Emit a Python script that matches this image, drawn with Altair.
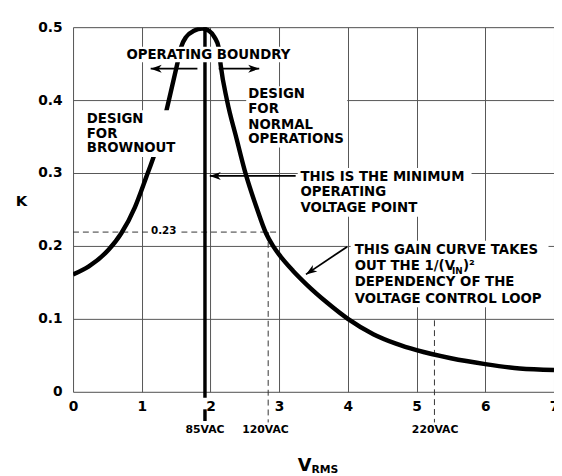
import altair as alt
import pandas as pd

# ---- data ----
curve_x = [0.0, 0.23, 0.52, 0.70, 0.90, 1.06, 1.20, 1.33, 1.42, 1.52, 1.57, 1.65, 1.76, 1.88,
           1.98, 2.06, 2.12, 2.15, 2.24, 2.38, 2.50, 2.67, 2.81, 2.91, 3.0, 3.2, 3.4, 3.7, 4.0,
           4.37, 4.7, 5.0, 5.5, 6.0, 6.5, 7.0]
curve_y = [0.161, 0.172, 0.195, 0.217, 0.253, 0.293, 0.330, 0.374, 0.410, 0.451, 0.472, 0.487, 0.495, 0.498,
           0.495, 0.486, 0.472, 0.447, 0.400, 0.347, 0.303, 0.253, 0.217, 0.200, 0.188, 0.166, 0.147, 0.122, 0.100,
           0.079, 0.066, 0.057, 0.046, 0.038, 0.032, 0.030]

x_ticks = [0, 1, 2, 3, 4, 5, 6, 7]
y_ticks = [0, 0.1, 0.2, 0.3, 0.4, 0.5]

min_voltage_x = 1.92          # 85VAC operating point
level_023 = 0.219             # dashed "0.23" level
v120_x = 2.84
v220_x = 5.26

# annotation texts
left_texts = ["DESIGN", "FOR", "BROWNOUT",
              "DESIGN", "FOR", "NORMAL", "OPERATIONS",
              "THIS IS THE MINIMUM", "OPERATING", "VOLTAGE POINT",
              "THIS GAIN CURVE TAKES", "OUT THE 1/(V", "DEPENDENCY OF THE", "VOLTAGE CONTROL LOOP"]
left_tx = [0.2, 0.2, 0.2,
           2.55, 2.55, 2.55, 2.55,
           3.31, 3.31, 3.31,
           4.10, 4.10, 4.10, 4.10]
left_ty = [0.374, 0.354, 0.334,
           0.408, 0.388, 0.366, 0.347,
           0.295, 0.274, 0.252,
           0.195, 0.172, 0.150, 0.127]

sub_texts = ["IN"]
sub_tx = [5.515]
sub_ty = [0.165]
close_texts = [")\u00b2"]
close_tx = [5.675]
close_ty = [0.172]

center_texts = ["OPERATING BOUNDRY"]
center_tx = [1.97]
center_ty = [0.462]

small_texts = ["85VAC", "120VAC", "220VAC"]
small_tx = [1.92, 2.80, 5.27]
small_ty = [-0.053, -0.053, -0.053]

tag_texts = ["0.23"]
tag_tx = [1.32]
tag_ty = [0.220]

k_label = ["K"]
k_x = [-0.75]
k_y = [0.262]

vrms_main = ["V"]
vrms_x = [3.27]
vrms_y = [-0.102]
vrms_sub = ["RMS"]
vrms_sub_x = [3.47]
vrms_sub_y = [-0.107]

# white backing boxes behind the annotation blocks
box_x = [0.72, 0.17, 2.52, 3.27, 4.04, 1.09]
box_x2 = [3.22, 1.58, 3.99, 5.80, 6.92, 1.55]
box_y = [0.452, 0.322, 0.335, 0.240, 0.116, 0.210]
box_y2 = [0.473, 0.386, 0.419, 0.307, 0.207, 0.230]

# dashed guide lines
dash_x = [0.0, v120_x, v220_x]
dash_x2 = [3.0, v120_x, v220_x]
dash_y = [level_023, level_023, 0.098]
dash_y2 = [level_023, -0.042, -0.042]

# thick operating-point line
op_x = [min_voltage_x, min_voltage_x]
op_y = [0.5, -0.024]
op_y2 = [-0.008, -0.040]

# arrows: shaft start -> tip
arr_x = [1.81, 2.12, 3.24, 3.99]
arr_y = [0.443, 0.443, 0.296, 0.199]
arr_tx = [1.13, 2.71, 1.99, 3.39]
arr_ty = [0.443, 0.443, 0.296, 0.161]
arr_angle = [0, 180, 0, 326]

FONT = "DejaVu Sans"
X = alt.Scale(domain=[0, 7], nice=False, zero=False)
Y = alt.Scale(domain=[0, 0.5], nice=False, zero=False)
xaxis = alt.Axis(values=x_ticks, title=None, ticks=False, domain=False, grid=True,
                 labelFont=FONT, labelFontWeight="bold", labelFontSize=14, labelColor="black",
                 labelPadding=8, labelFlush=False, gridColor="#555", gridWidth=1)
yaxis = alt.Axis(values=y_ticks, title=None, ticks=False, domain=False, grid=True,
                 labelFont=FONT, labelFontWeight="bold", labelFontSize=14, labelColor="black",
                 labelPadding=11, labelFlush=False, gridColor="#555", gridWidth=1, format=".1~f")


def ex(f="x"):
    return alt.X(f"{f}:Q", scale=X, axis=xaxis)


def ey(f="y"):
    return alt.Y(f"{f}:Q", scale=Y, axis=yaxis)


curve_df = pd.DataFrame({"x": curve_x, "y": curve_y})
curve = alt.Chart(curve_df).mark_line(color="black", strokeWidth=4.5, interpolate="monotone",
                                      clip=True).encode(x=ex(), y=ey())

dash_df = pd.DataFrame({"x": dash_x, "x2": dash_x2, "y": dash_y, "y2": dash_y2})
dashes = alt.Chart(dash_df).mark_rule(color="#333", strokeWidth=1, strokeDash=[6, 4]).encode(
    x=ex(), x2="x2:Q", y=ey(), y2="y2:Q")

op_df = pd.DataFrame({"x": op_x, "y": op_y, "y2": op_y2})
opline = alt.Chart(op_df).mark_rule(color="black", strokeWidth=3.5).encode(x=ex(), y=ey(), y2="y2:Q")

box_df = pd.DataFrame({"x": box_x, "x2": box_x2, "y": box_y, "y2": box_y2})
boxes = alt.Chart(box_df).mark_rect(color="white").encode(x=ex(), x2="x2:Q", y=ey(), y2="y2:Q")

arr_df = pd.DataFrame({"x": arr_x, "y": arr_y, "x2": arr_tx, "y2": arr_ty})
shafts = alt.Chart(arr_df).mark_rule(color="black", strokeWidth=1.8).encode(x=ex(), x2="x2:Q", y=ey(), y2="y2:Q")

head_df = pd.DataFrame({"x": arr_tx, "y": arr_ty, "a": arr_angle})
heads = alt.Chart(head_df).mark_point(shape="M0,0 L1,-0.36 L0.72,0 L1,0.36 Z", filled=True, size=500,
                                      color="black", opacity=1).encode(
    x=ex(), y=ey(), angle=alt.Angle("a:Q", scale=None))


def text_layer(texts, xs, ys, size, align="left", weight="bold"):
    df = pd.DataFrame({"x": xs, "y": ys, "t": texts})
    return alt.Chart(df).mark_text(font=FONT, fontWeight=weight, fontSize=size, align=align,
                                   baseline="middle", color="black").encode(x=ex(), y=ey(), text="t:N")


t_left = text_layer(left_texts, left_tx, left_ty, 13.5)
t_sub = text_layer(sub_texts, sub_tx, sub_ty, 9)
t_close = text_layer(close_texts, close_tx, close_ty, 13.5)
t_center = text_layer(center_texts, center_tx, center_ty, 13.5, align="center")
t_small = text_layer(small_texts, small_tx, small_ty, 11, align="center")
t_tag = text_layer(tag_texts, tag_tx, tag_ty, 10.5, align="center")
t_k = text_layer(k_label, k_x, k_y, 15, align="center")
t_v = text_layer(vrms_main, vrms_x, vrms_y, 18)
t_vs = text_layer(vrms_sub, vrms_sub_x, vrms_sub_y, 11)

chart = alt.layer(
    dashes, opline, curve, boxes, shafts, heads,
    t_left, t_sub, t_close, t_center, t_small, t_tag, t_k, t_v, t_vs
).properties(
    width=488, height=370,
    autosize=alt.AutoSizeParams(type="none"),
    padding={"left": 66, "top": 16, "right": 0, "bottom": 82},
).configure_view(stroke="black", strokeWidth=2.5).configure(background="white")

chart.save("out.html", embed_options={"renderer": "svg", "actions": False})
